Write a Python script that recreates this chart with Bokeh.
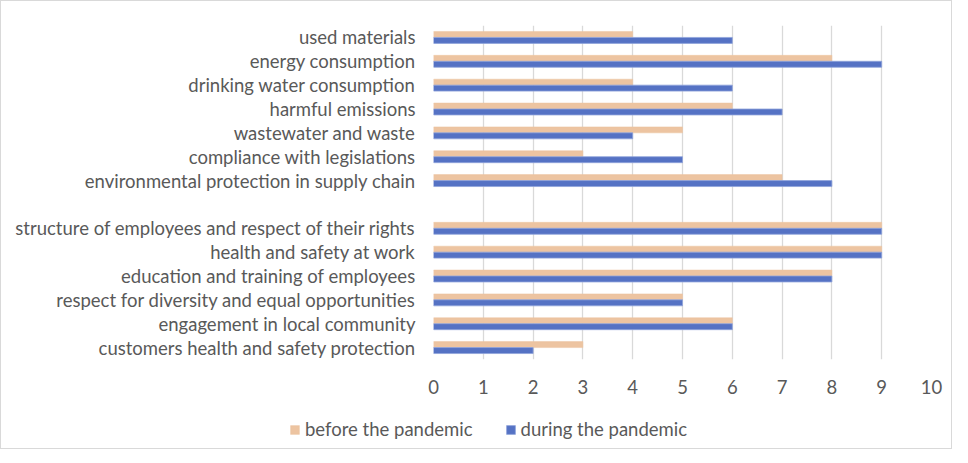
from bokeh.plotting import figure
from bokeh.layouts import column, row
from bokeh.models import FactorRange, Legend, LegendItem, ColumnDataSource, FixedTicker
from bokeh.transform import dodge
from bokeh.embed import file_html
from bokeh.resources import INLINE

categories = [
    "used materials",
    "energy consumption",
    "drinking water consumption",
    "harmful emissions",
    "wastewater and waste",
    "compliance with legislations",
    "environmental protection in supply chain",
    " ",
    "structure of employees and respect of their rights",
    "health and safety at work",
    "education and training of employees",
    "respect for diversity and equal opportunities",
    "engagement in local community",
    "customers health and safety protection",
]
before = [4, 8, 4, 6, 5, 3, 7, None, 9, 9, 8, 5, 6, 3]
during = [6, 9, 6, 7, 4, 5, 8, None, 9, 9, 8, 5, 6, 2]
series_names = ["before the pandemic", "during the pandemic"]
x_ticks = list(range(0, 11))

ORANGE = "#EDC4A1"
BLUE = "#5572C4"
BLUE_EDGE = "#8FA3DA"
TEXT = "#595959"
FONT = "Lato"
FS = "18.5px"

keep = [i for i, v in enumerate(before) if v is not None]
src = ColumnDataSource(dict(
    cat=[categories[i] for i in keep],
    before=[before[i] for i in keep],
    during=[during[i] for i in keep],
))

W = 950
p = figure(
    width=W, height=410,
    y_range=FactorRange(factors=list(reversed(categories)), range_padding=0),
    x_range=(0, 10),
    output_backend="svg", toolbar_location=None,
    min_border_left=432, min_border_right=20, min_border_top=24, min_border_bottom=52,
)

r1 = p.hbar(y=dodge("cat", 0.125, range=p.y_range), right="before", left=0, height=0.25,
            source=src, fill_color=ORANGE, line_color=ORANGE, line_width=0.5)
r2 = p.hbar(y=dodge("cat", -0.125, range=p.y_range), right="during", left=0, height=0.25,
            source=src, fill_color=BLUE, line_color=BLUE_EDGE, line_width=0.8)

p.outline_line_color = None
p.ygrid.grid_line_color = None
p.xgrid.grid_line_color = "#D9D9D9"
p.xgrid.grid_line_width = 1.3
p.xaxis.ticker = FixedTicker(ticks=x_ticks)

for ax in (p.xaxis[0], p.yaxis[0]):
    ax.axis_line_color = None
    ax.major_tick_line_color = None
    ax.minor_tick_line_color = None
    ax.major_label_text_font = FONT
    ax.major_label_text_font_size = FS
    ax.major_label_text_color = TEXT
p.xaxis.major_label_standoff = 14
p.yaxis.major_label_standoff = 12

# legend strip below the chart
lg = figure(width=W, height=37, x_range=(0, 1), y_range=(0, 1),
            output_backend="svg", toolbar_location=None,
            min_border=0, min_border_left=0, min_border_right=0,
            min_border_top=0, min_border_bottom=0)
lg.axis.visible = False
lg.grid.visible = False
lg.outline_line_color = None
e1 = lg.hbar(y=[-5], right=[-5], left=[-6], height=0.1,
             fill_color=ORANGE, line_color=ORANGE, line_width=0.5)
e2 = lg.hbar(y=[-5], right=[-5], left=[-6], height=0.1,
             fill_color=BLUE, line_color=BLUE_EDGE, line_width=0.8)
legend = Legend(
    items=[LegendItem(label=series_names[0], renderers=[e1]),
           LegendItem(label=series_names[1], renderers=[e2])],
    orientation="horizontal",
    location=(288, 8),
    glyph_width=11, glyph_height=11,
    label_text_font=FONT, label_text_font_size=FS, label_text_color=TEXT,
    label_standoff=5, spacing=32, padding=0, margin=0,
    border_line_color=None, background_fill_alpha=0,
    label_height=11,
)
lg.add_layout(legend, "center")

layout = column(p, row(lg), spacing=0)
layout.styles = {"border": "1px solid #D9D9D9"}

open("out.html", "w").write(file_html(layout, INLINE))
